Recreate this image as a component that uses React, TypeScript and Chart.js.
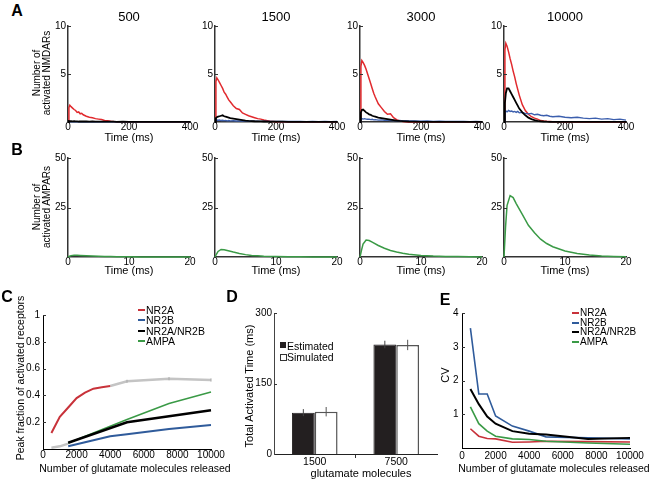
import React, { useEffect, useRef } from 'react';
import { Chart, registerables } from 'chart.js';

Chart.register(...registerables);

const FONT = "'Liberation Sans', Arial, Helvetica, sans-serif";
Chart.defaults.font.family = FONT;
Chart.defaults.color = '#000';

// ---------------- Panel A : activated NMDARs vs time (ms) ----------------
const A_TITLES = ['500', '1500', '3000', '10000'];
const A_TIME = [0, 3, 6, 10, 15, 20, 25, 30, 35, 40, 45, 50, 60, 70, 80, 90, 100, 110, 120, 130, 140, 150, 160, 180, 200, 220, 240, 260, 280, 300, 320, 340, 360, 380, 400];

const A_NR2A_500 = [0, 1.5, 1.75, 1.6, 1.45, 1.3, 1.2, 1.0, 1.05, 0.85, 0.9, 0.75, 0.6, 0.5, 0.45, 0.35, 0.3, 0.25, 0.15, 0.12, 0.08, 0.05, 0.03, 0.01, 0, 0, 0, 0, 0, 0, 0, 0, 0, 0, 0];
const A_NR2B_500 = [0, 0.03, 0.04, 0.03, 0.04, 0.03, 0.03, 0.04, 0.03, 0.03, 0.03, 0.02, 0.03, 0.02, 0.03, 0.02, 0.02, 0.03, 0.02, 0.02, 0.02, 0.02, 0.02, 0.02, 0.02, 0.01, 0.02, 0.01, 0.02, 0.01, 0.01, 0.01, 0.01, 0.01, 0.01];
const A_NR2AB_500 = [0, 0.1, 0.08, 0.1, 0.07, 0.08, 0.06, 0.07, 0.05, 0.06, 0.05, 0.06, 0.05, 0.04, 0.05, 0.04, 0.04, 0.03, 0.04, 0.03, 0.03, 0.03, 0.02, 0.03, 0.02, 0.02, 0.02, 0.02, 0.02, 0.02, 0.02, 0.02, 0.02, 0.02, 0.02];

const A_NR2A_1500 = [0, 4.2, 4.6, 4.4, 4.1, 3.8, 3.5, 3.1, 2.9, 2.6, 2.3, 2.1, 1.7, 1.4, 1.3, 0.95, 0.8, 0.65, 0.55, 0.45, 0.35, 0.3, 0.2, 0.08, 0.03, 0.01, 0, 0, 0, 0, 0, 0, 0, 0, 0];
const A_NR2B_1500 = [0, 0.15, 0.2, 0.18, 0.2, 0.15, 0.18, 0.14, 0.16, 0.12, 0.15, 0.12, 0.13, 0.1, 0.12, 0.1, 0.11, 0.08, 0.1, 0.08, 0.09, 0.07, 0.08, 0.06, 0.07, 0.05, 0.06, 0.05, 0.06, 0.04, 0.05, 0.04, 0.05, 0.04, 0.05];
const A_NR2AB_1500 = [0, 0.4, 0.5, 0.55, 0.6, 0.65, 0.7, 0.6, 0.55, 0.5, 0.45, 0.4, 0.35, 0.3, 0.25, 0.2, 0.15, 0.12, 0.1, 0.08, 0.07, 0.06, 0.05, 0.04, 0.03, 0.03, 0.02, 0.02, 0.02, 0.02, 0.02, 0.02, 0.02, 0.02, 0.02];

const A_NR2A_3000 = [0, 5.8, 6.4, 6.2, 5.9, 5.5, 5.0, 4.5, 4.0, 3.5, 3.0, 2.6, 1.9, 1.5, 1.1, 0.8, 0.85, 0.45, 0.25, 0.12, 0.05, 0.02, 0.01, 0, 0, 0, 0, 0, 0, 0, 0, 0, 0, 0, 0];
const A_NR2B_3000 = [0, 0.3, 0.35, 0.3, 0.35, 0.3, 0.28, 0.3, 0.25, 0.28, 0.22, 0.25, 0.2, 0.22, 0.18, 0.2, 0.15, 0.17, 0.13, 0.15, 0.12, 0.13, 0.1, 0.12, 0.08, 0.1, 0.07, 0.08, 0.06, 0.07, 0.05, 0.06, 0.04, 0.05, 0.03];
const A_NR2AB_3000 = [0, 1.0, 1.25, 1.3, 1.15, 1.0, 0.9, 0.8, 0.75, 0.65, 0.6, 0.55, 0.45, 0.4, 0.35, 0.3, 0.25, 0.2, 0.15, 0.12, 0.1, 0.07, 0.05, 0.03, 0.02, 0.02, 0.02, 0.02, 0.02, 0.02, 0.02, 0.02, 0.02, 0.02, 0.02];

const A_NR2A_10000 = [0, 7.5, 8.2, 7.9, 7.3, 6.6, 6.0, 5.3, 4.7, 4.0, 3.4, 2.8, 1.8, 1.2, 0.8, 0.55, 0.4, 0.3, 0.15, 0.1, 0.07, 0.05, 0.03, 0.02, 0, 0, 0, 0, 0, 0, 0, 0, 0, 0, 0];
const A_NR2B_10000 = [0, 1.0, 1.15, 1.05, 1.2, 1.1, 1.15, 1.05, 1.1, 1.0, 1.1, 0.95, 1.0, 0.9, 0.85, 0.9, 0.75, 0.8, 0.7, 0.65, 0.7, 0.6, 0.55, 0.6, 0.5, 0.45, 0.5, 0.4, 0.35, 0.4, 0.3, 0.35, 0.25, 0.3, 0.2];
const A_NR2AB_10000 = [0, 2.0, 3.0, 3.5, 3.5, 3.2, 2.9, 2.6, 2.3, 2.0, 1.7, 1.4, 1.0, 0.7, 0.45, 0.3, 0.2, 0.12, 0.08, 0.05, 0.03, 0.02, 0.02, 0.02, 0.02, 0.02, 0.02, 0.02, 0.02, 0.02, 0.02, 0.02, 0.02, 0.02, 0.02];

const A_NR2A = [A_NR2A_500, A_NR2A_1500, A_NR2A_3000, A_NR2A_10000];
const A_NR2B = [A_NR2B_500, A_NR2B_1500, A_NR2B_3000, A_NR2B_10000];
const A_NR2AB = [A_NR2AB_500, A_NR2AB_1500, A_NR2AB_3000, A_NR2AB_10000];

// ---------------- Panel B : activated AMPARs vs time (ms) ----------------
const B_TIME = [0, 0.25, 0.5, 1, 1.5, 2, 3, 4, 5, 6, 7, 8, 10, 12, 14, 16, 18, 20];
const B_AMPA_500 = [0, 0.4, 0.7, 0.9, 0.85, 0.8, 0.6, 0.45, 0.35, 0.25, 0.2, 0.15, 0.1, 0.06, 0.04, 0.03, 0.02, 0.01];
const B_AMPA_1500 = [0, 1.5, 2.8, 3.8, 3.7, 3.3, 2.5, 1.8, 1.2, 0.8, 0.6, 0.4, 0.2, 0.1, 0.07, 0.05, 0.03, 0.02];
const B_AMPA_3000 = [0, 3.5, 6.5, 8.6, 8.3, 7.5, 5.8, 4.4, 3.3, 2.5, 1.9, 1.4, 0.8, 0.45, 0.3, 0.2, 0.1, 0.05];
const B_AMPA_10000 = [0, 15, 26, 31, 30, 27, 21.5, 16, 12.2, 9, 6.8, 5.2, 3.0, 1.8, 1.0, 0.5, 0.25, 0.1];
const B_AMPA = [B_AMPA_500, B_AMPA_1500, B_AMPA_3000, B_AMPA_10000];

// ---------------- Panel C : peak fraction of activated receptors ----------------
const C_NR2A_X = [500, 1000, 1500, 2000, 2500, 3000, 3500, 4000];
const C_NR2A = [0.12, 0.24, 0.31, 0.38, 0.42, 0.45, 0.46, 0.47];
const C_SAT_X = [4000, 5000, 7500, 10000];
const C_SAT = [0.47, 0.505, 0.525, 0.515];
const C_SAT_ERR = [0, 0.012, 0.012, 0.012];
const C_LOW_X = [500, 1000, 1500];
const C_LOW = [0.01, 0.02, 0.04];
const C_NR2B_X = [1500, 2000, 3000, 4000, 5000, 7500, 10000];
const C_NR2B = [0.02, 0.035, 0.065, 0.095, 0.11, 0.15, 0.18];
const C_NR2AB_X = [1500, 5000, 7500, 10000];
const C_NR2AB = [0.047, 0.2, 0.245, 0.29];
const C_AMPA_X = [1500, 2000, 3000, 4000, 5000, 7500, 10000];
const C_AMPA = [0.045, 0.07, 0.12, 0.17, 0.22, 0.34, 0.425];

// ---------------- Panel D : total activated time ----------------
const D_CATEGORIES = ['1500', '7500'];
const D_ESTIMATED = [88, 233];
const D_ESTIMATED_ERR = [7.5, 8];
const D_SIMULATED = [90, 232];
const D_SIMULATED_ERR = [10, 11];

// ---------------- Panel E : CV ----------------
const E_X = [500, 1000, 1500, 2000, 3000, 4000, 5000, 7500, 10000];
const E_NR2A = [0.57, 0.35, 0.28, 0.27, 0.17, 0.18, 0.2, 0.19, 0.18];
const E_NR2B = [3.55, 1.6, 1.6, 0.95, 0.65, 0.5, 0.33, 0.3, 0.27];
const E_NR2AB = [1.75, 1.3, 0.93, 0.72, 0.5, 0.42, 0.4, 0.27, 0.3];
const E_AMPA = [1.22, 0.72, 0.5, 0.35, 0.27, 0.25, 0.2, 0.15, 0.11];

const LEGEND_LABELS = ['NR2A', 'NR2B', 'NR2A/NR2B', 'AMPA'];

// colours
const RED_A = '#e12a2e';
const BLUE_A = '#3c5fae';
const GREEN = '#3a9a46';
const RED_C = '#c8323a';
const BLUE_C = '#2f5b9b';
const GRAY_C = '#c4c4c4';
const LEGEND_COLORS = [RED_C, BLUE_C, '#000', GREEN];

// layout
const COL_L = [68, 215, 360, 504];
const COL_W = 122;
const YW = 34, XH = 30, PT = 10, PR = 18;

type Rect = { l: number; t: number; r: number; b: number };

const pts = (xs: number[], ys: number[]) => xs.map((x, i) => ({ x, y: ys[i] }));

const errorBarPlugin = {
  id: 'errorBars',
  afterDatasetsDraw(chart: any) {
    const ctx = chart.ctx;
    const ys = chart.scales.y;
    chart.data.datasets.forEach((ds: any, i: number) => {
      if (!ds.errors) return;
      const meta = chart.getDatasetMeta(i);
      meta.data.forEach((el: any, j: number) => {
        const e = ds.errors[j];
        if (!e) return;
        const raw = ds.data[j];
        const v = typeof raw === 'number' ? raw : raw.y;
        const y1 = ys.getPixelForValue(v + e);
        const y2 = ys.getPixelForValue(v - e);
        ctx.save();
        ctx.strokeStyle = ds.errorColor || '#333';
        ctx.lineWidth = ds.errorWidth || 1;
        ctx.beginPath();
        ctx.moveTo(el.x, y1);
        ctx.lineTo(el.x, y2);
        ctx.stroke();
        ctx.restore();
      });
    });
  },
};

// short inward tick marks on the y axis (MATLAB style)
const inTickPlugin = {
  id: 'inTicks',
  afterDraw(chart: any) {
    const ys = chart.scales.y;
    if (!ys || ys.type !== 'linear') return;
    const ctx = chart.ctx;
    const left = chart.chartArea.left;
    ctx.save();
    ctx.strokeStyle = '#333';
    ctx.lineWidth = 1;
    ctx.beginPath();
    ys.ticks.forEach((t: any) => {
      if (t.value === ys.min) return;
      const y = Math.round(ys.getPixelForValue(t.value)) + 0.5;
      ctx.moveTo(left, y);
      ctx.lineTo(left + 3, y);
    });
    ctx.stroke();
    ctx.restore();
  },
};

function linAxis(min: number, max: number, step: number, pad: number, size: number, hideZero: boolean, color: string, width: number) {
  return {
    type: 'linear',
    min,
    max,
    grid: { display: false, drawTicks: false },
    border: { display: true, color, width },
    ticks: {
      stepSize: step,
      padding: pad,
      autoSkip: false,
      maxRotation: 0,
      font: { size },
      color: '#000',
      callback: (v: any) => (hideZero && Number(v) === 0 ? '' : String(+Number(v).toFixed(2))),
    },
  };
}

function lineDs(data: any[], color: string, width: number) {
  return { data, borderColor: color, backgroundColor: color, borderWidth: width, pointRadius: 0, tension: 0, fill: false, clip: 4 };
}

function ChartBox({ rect, make }: { rect: Rect; make: () => any }) {
  const ref = useRef<HTMLCanvasElement | null>(null);
  const w = rect.r - rect.l + YW + PR;
  const h = rect.b - rect.t + PT + XH;
  useEffect(() => {
    const cfg = make();
    const o = cfg.options || {};
    o.responsive = false;
    o.maintainAspectRatio = false;
    o.animation = false;
    o.devicePixelRatio = 1;
    o.layout = { padding: { left: 0, top: PT, right: PR, bottom: 0 } };
    o.scales.x.afterFit = (s: any) => { s.height = XH; };
    o.scales.y.afterFit = (s: any) => { s.width = YW; };
    o.plugins = { legend: { display: false }, tooltip: { enabled: false }, title: { display: false } };
    o.events = [];
    cfg.options = o;
    cfg.plugins = [errorBarPlugin, inTickPlugin];
    const chart = new Chart(ref.current as HTMLCanvasElement, cfg);
    return () => chart.destroy();
  }, []);
  return (
    <canvas
      ref={ref}
      width={w}
      height={h}
      style={{ position: 'absolute', left: rect.l - YW, top: rect.t - PT, width: w, height: h }}
    />
  );
}

function makeA(i: number) {
  return {
    type: 'line',
    data: {
      datasets: [
        lineDs(pts(A_TIME, A_NR2AB[i]), '#000', 1.8),
        lineDs(pts(A_TIME, A_NR2B[i]), BLUE_A, 1.4),
        lineDs(pts(A_TIME, A_NR2A[i]), RED_A, 1.5),
      ],
    },
    options: {
      scales: {
        x: linAxis(0, 400, 200, -1, 10, false, '#333', 1.5),
        y: linAxis(0, 10, 5, 2, 10, true, '#333', 1.5),
      },
    },
  };
}

function makeB(i: number) {
  return {
    type: 'line',
    data: { datasets: [lineDs(pts(B_TIME, B_AMPA[i]), GREEN, 1.5)] },
    options: {
      scales: {
        x: linAxis(0, 20, 10, -1, 10, false, '#333', 1.5),
        y: linAxis(0, 50, 25, 2, 10, true, '#333', 1.5),
      },
    },
  };
}

function makeC() {
  return {
    type: 'line',
    data: {
      datasets: [
        lineDs(pts(C_NR2AB_X, C_NR2AB), '#000', 2.5),
        lineDs(pts(C_NR2B_X, C_NR2B), BLUE_C, 2),
        lineDs(pts(C_AMPA_X, C_AMPA), GREEN, 1.5),
        lineDs(pts(C_NR2A_X, C_NR2A), RED_C, 2),
        { ...lineDs(pts(C_SAT_X, C_SAT), GRAY_C, 2.5), errors: C_SAT_ERR, errorColor: '#aaa', errorWidth: 1 },
        lineDs(pts(C_LOW_X, C_LOW), GRAY_C, 2.5),
      ],
    },
    options: {
      scales: {
        x: linAxis(0, 10000, 2000, 0, 10, false, '#000', 1),
        y: linAxis(0, 1, 0.2, 3, 10, true, '#000', 1),
      },
    },
  };
}

function makeD() {
  const x: any = {
    type: 'category',
    offset: true,
    grid: {
      display: true,
      drawOnChartArea: false,
      drawTicks: true,
      tickLength: 4,
      offset: true,
      color: (c: any) => (c.index === 1 ? '#333' : 'rgba(0,0,0,0)'),
    },
    border: { display: true, color: '#222', width: 1 },
    ticks: { padding: -2, font: { size: 10.5 }, color: '#000', maxRotation: 0 },
  };
  return {
    type: 'bar',
    data: {
      labels: D_CATEGORIES,
      datasets: [
        { label: 'Estimated', data: D_ESTIMATED, errors: D_ESTIMATED_ERR, backgroundColor: '#231f20', borderColor: '#231f20', borderWidth: 1, errorColor: '#444', categoryPercentage: 0.56, barPercentage: 1 },
        { label: 'Simulated', data: D_SIMULATED, errors: D_SIMULATED_ERR, backgroundColor: '#ffffff', borderColor: '#555', borderWidth: 1.5, errorColor: '#555', categoryPercentage: 0.56, barPercentage: 1 },
      ],
    },
    options: {
      scales: {
        x,
        y: linAxis(0, 300, 150, 2, 10, false, '#444', 1),
      },
    },
  };
}

function makeE() {
  return {
    type: 'line',
    data: {
      datasets: [
        lineDs(pts(E_X, E_NR2AB), '#000', 2),
        lineDs(pts(E_X, E_NR2B), BLUE_C, 1.6),
        lineDs(pts(E_X, E_AMPA), GREEN, 1.6),
        lineDs(pts(E_X, E_NR2A), RED_C, 1.6),
      ],
    },
    options: {
      scales: {
        x: linAxis(0, 10000, 2000, 2.5, 10, false, '#000', 1),
        y: linAxis(0, 4, 1, 3.5, 10, true, '#000', 1),
      },
    },
  };
}

function Txt({ x, y, s, children, rot, bold, left }: { x: number; y: number; s: number; children: any; rot?: boolean; bold?: boolean; left?: boolean }) {
  return (
    <div
      style={{
        position: 'absolute',
        left: x,
        top: y,
        transform: `translate(${left ? '0' : '-50%'},-50%)${rot ? ' rotate(-90deg)' : ''}`,
        fontSize: s,
        fontFamily: FONT,
        fontWeight: bold ? 700 : 400,
        whiteSpace: 'nowrap',
        lineHeight: 1,
        color: '#000',
      }}
    >
      {children}
    </div>
  );
}

function LineLegend({ x, ys, size }: { x: number; ys: number[]; size: number }) {
  return (
    <>
      {LEGEND_LABELS.map((lab, i) => (
        <React.Fragment key={lab}>
          <div style={{ position: 'absolute', left: x, top: ys[i] - 1, width: 7, height: 2, background: LEGEND_COLORS[i] }} />
          <Txt x={x + 8} y={ys[i]} s={size} left>{lab}</Txt>
        </React.Fragment>
      ))}
    </>
  );
}

export default function App() {
  return (
    <div style={{ position: 'absolute', left: 0, top: 0, width: 650, height: 482, background: '#fff', overflow: 'hidden', fontFamily: FONT }}>
      {A_TITLES.map((t, i) => (
        <ChartBox key={'a' + t} rect={{ l: COL_L[i], r: COL_L[i] + COL_W, t: 26, b: 122 }} make={() => makeA(i)} />
      ))}
      {A_TITLES.map((t, i) => (
        <ChartBox key={'b' + t} rect={{ l: COL_L[i], r: COL_L[i] + COL_W, t: 158, b: 257 }} make={() => makeB(i)} />
      ))}
      <ChartBox rect={{ l: 43, r: 211, t: 315, b: 449 }} make={makeC} />
      <ChartBox rect={{ l: 274, r: 437, t: 313, b: 454 }} make={makeD} />
      <ChartBox rect={{ l: 462, r: 630, t: 313, b: 448 }} make={makeE} />

      {/* panel letters */}
      <Txt x={17} y={11} s={16} bold>A</Txt>
      <Txt x={17} y={150} s={16} bold>B</Txt>
      <Txt x={7} y={297} s={16} bold>C</Txt>
      <Txt x={232} y={297} s={16} bold>D</Txt>
      <Txt x={445} y={300} s={16} bold>E</Txt>

      {/* row titles and axis titles */}
      {A_TITLES.map((t, i) => (
        <Txt key={'t' + t} x={COL_L[i] + COL_W / 2} y={16} s={13}>{t}</Txt>
      ))}
      {A_TITLES.map((t, i) => (
        <Txt key={'xa' + t} x={COL_L[i] + COL_W / 2} y={136.5} s={11}>Time (ms)</Txt>
      ))}
      {A_TITLES.map((t, i) => (
        <Txt key={'xb' + t} x={COL_L[i] + COL_W / 2} y={270} s={11}>Time (ms)</Txt>
      ))}
      <Txt x={37} y={73} s={10} rot>Number of</Txt>
      <Txt x={47} y={73} s={10} rot>activated NMDARs</Txt>
      <Txt x={37} y={207} s={10} rot>Number of</Txt>
      <Txt x={47} y={207} s={10} rot>activated AMPARs</Txt>

      <Txt x={20} y={378} s={10.5} rot>Peak fraction of activated receptors</Txt>
      <Txt x={135} y={468} s={10.5}>Number of glutamate molecules released</Txt>
      <LineLegend x={138} ys={[309.5, 320, 330.5, 341]} size={10.5} />

      <Txt x={249} y={386} s={11} rot>Total Activated Time (ms)</Txt>
      <Txt x={361} y={473} s={11}>glutamate molecules</Txt>
      <div style={{ position: 'absolute', left: 280, top: 342, width: 6, height: 6, background: '#231f20' }} />
      <Txt x={287} y={345.5} s={10.5} left>Estimated</Txt>
      <div style={{ position: 'absolute', left: 280, top: 354, width: 5, height: 5, background: '#fff', border: '1px solid #333' }} />
      <Txt x={287} y={357} s={10.5} left>Simulated</Txt>

      <Txt x={445} y={375} s={11} rot>CV</Txt>
      <Txt x={554} y={468} s={10.5}>Number of glutamate molecules released</Txt>
      <LineLegend x={572} ys={[313, 322.5, 332, 341.5]} size={10} />
    </div>
  );
}
